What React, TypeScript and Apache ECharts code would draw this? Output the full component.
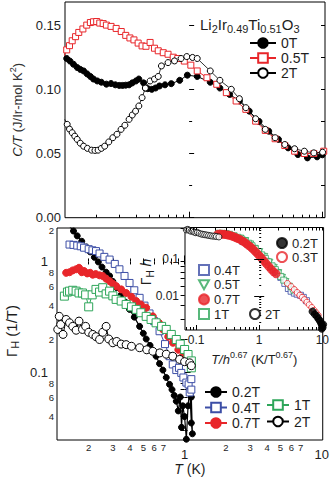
import React, { useEffect, useRef } from "react";
import * as echarts from "echarts";

const FONT = '"Liberation Sans", Arial, Helvetica, sans-serif';
const TXT = "#1e1e1e";
const RED = "#e8262a";
const BLUE = "#3c4ea6";
const GREEN = "#2ea65a";

// ---------- Top panel: C/T (J/Ir-mol K^2) vs T (K) ----------
const top0T: [number, number][] = [
  [0.121, 0.124], [0.128, 0.122], [0.136, 0.1195], [0.145, 0.117], [0.153, 0.1155], [0.162, 0.1143],
  [0.172, 0.112], [0.182, 0.11], [0.192, 0.108], [0.205, 0.1065], [0.22, 0.1055], [0.24, 0.104],
  [0.26, 0.1045], [0.28, 0.1035], [0.3, 0.103], [0.317, 0.103], [0.335, 0.1032], [0.355, 0.1035],
  [0.375, 0.105], [0.4, 0.1065], [0.42, 0.108], [0.456, 0.105], [0.47, 0.101], [0.49, 0.1005],
  [0.525, 0.1], [0.56, 0.101], [0.6, 0.1026], [0.66, 0.1035], [0.735, 0.1044], [0.85, 0.107],
  [0.97, 0.111], [1.15, 0.11], [1.44, 0.1055], [1.7, 0.101], [2.01, 0.096], [2.38, 0.091],
  [2.82, 0.083], [3.34, 0.075], [3.95, 0.0674], [4.67, 0.061], [5.52, 0.0544], [6.53, 0.0492],
  [7.7, 0.0466], [9.1, 0.0474], [9.96, 0.049],
];
const top05T: [number, number][] = [
  [0.115, 0.1255], [0.121, 0.1307], [0.127, 0.134], [0.133, 0.1378], [0.141, 0.141], [0.149, 0.1443],
  [0.16, 0.147], [0.171, 0.15], [0.182, 0.152], [0.192, 0.1526], [0.203, 0.1528], [0.214, 0.1516],
  [0.227, 0.1512], [0.24, 0.15], [0.26, 0.149], [0.284, 0.1474], [0.31, 0.145], [0.335, 0.142],
  [0.36, 0.14], [0.386, 0.1385], [0.415, 0.136], [0.444, 0.1338], [0.475, 0.1335], [0.51, 0.1365],
  [0.55, 0.132], [0.587, 0.13], [0.64, 0.1285], [0.695, 0.1273], [0.76, 0.125], [0.822, 0.124],
  [0.92, 0.122], [1.03, 0.1188], [1.15, 0.1143], [1.36, 0.109], [1.61, 0.1039], [1.9, 0.0974],
  [2.25, 0.0909], [2.66, 0.0844], [3.15, 0.0752], [3.72, 0.068], [4.41, 0.0615], [5.21, 0.0562],
  [6.17, 0.0518], [7.3, 0.05], [8.6, 0.05], [10.2, 0.0518],
];
const top2T: [number, number][] = [
  [0.117, 0.0766], [0.122, 0.0727], [0.127, 0.069], [0.133, 0.0662], [0.139, 0.0635], [0.145, 0.061],
  [0.153, 0.058], [0.162, 0.0557], [0.173, 0.054], [0.186, 0.0526], [0.197, 0.0524], [0.208, 0.0526],
  [0.22, 0.054], [0.233, 0.0557], [0.25, 0.059], [0.268, 0.0623], [0.288, 0.065], [0.309, 0.0688],
  [0.33, 0.072], [0.355, 0.0766], [0.375, 0.08], [0.397, 0.083], [0.42, 0.087], [0.444, 0.0935],
  [0.47, 0.101], [0.51, 0.1065], [0.55, 0.108], [0.587, 0.11], [0.62, 0.1182], [0.695, 0.1208],
  [0.777, 0.1221], [0.87, 0.124], [0.96, 0.1255], [1.06, 0.1248], [1.15, 0.124], [1.44, 0.1143],
  [1.7, 0.107], [2.07, 0.1], [2.38, 0.0927], [2.66, 0.0857], [3.15, 0.0771], [3.72, 0.0688],
  [4.41, 0.0623], [5.21, 0.057], [6.17, 0.0537], [7.3, 0.0518], [8.6, 0.0505], [10, 0.051],
];

// ---------- Bottom panel: Gamma_H (1/T) vs T (K) ----------
const bot02T: [number, number][] = [
  [0.145, 2.08], [0.155, 1.88], [0.165, 1.7], [0.178, 1.52], [0.192, 1.35], [0.205, 1.22],
  [0.22, 1.09], [0.235, 0.99], [0.25, 0.89], [0.268, 0.8], [0.284, 0.74], [0.3, 0.66],
  [0.32, 0.58], [0.345, 0.5], [0.37, 0.43], [0.397, 0.37], [0.43, 0.315], [0.47, 0.26],
  [0.5, 0.225], [0.525, 0.2], [0.56, 0.175], [0.59, 0.155], [0.62, 0.14], [0.657, 0.12],
  [0.695, 0.105], [0.735, 0.09], [0.777, 0.078], [0.81, 0.07], [0.84, 0.062], [0.87, 0.055],
  [0.9, 0.045], [0.93, 0.06], [0.95, 0.032], [0.97, 0.05], [1.0, 0.04], [1.03, 0.025],
  [1.06, 0.05], [1.09, 0.07], [1.12, 0.035], [1.14, 0.028], [1.12, 0.06],
];
const bot04T: [number, number][] = [
  [0.145, 1.42], [0.155, 1.41], [0.165, 1.39], [0.175, 1.37], [0.185, 1.33], [0.2, 1.29],
  [0.213, 1.26], [0.226, 1.24], [0.24, 1.18], [0.26, 1.1], [0.284, 1.04], [0.31, 0.95],
  [0.335, 0.85], [0.365, 0.74], [0.397, 0.64], [0.43, 0.55], [0.47, 0.47], [0.51, 0.4],
  [0.555, 0.34], [0.6, 0.29], [0.657, 0.235], [0.72, 0.18], [0.777, 0.14], [0.82, 0.118],
  [0.87, 0.105], [0.91, 0.11], [0.946, 0.099], [0.98, 0.09], [1.03, 0.081], [1.07, 0.078],
  [1.09, 0.066], [1.12, 0.087], [1.12, 0.07],
];
const bot07T: [number, number][] = [
  [0.137, 0.79], [0.145, 0.8], [0.153, 0.83], [0.162, 0.85], [0.17, 0.877], [0.178, 0.8],
  [0.185, 0.82], [0.195, 0.78], [0.205, 0.79], [0.214, 0.76], [0.225, 0.77], [0.24, 0.75],
  [0.253, 0.74], [0.268, 0.7], [0.284, 0.665], [0.3, 0.63], [0.317, 0.6], [0.345, 0.56],
  [0.375, 0.52], [0.41, 0.48], [0.444, 0.44], [0.48, 0.41], [0.525, 0.383], [0.587, 0.32],
  [0.65, 0.28], [0.695, 0.244], [0.76, 0.21], [0.822, 0.185], [0.9, 0.16], [0.97, 0.14],
  [1.05, 0.125], [1.12, 0.11],
];
const bot1T: [number, number][] = [
  [0.133, 0.487], [0.14, 0.53], [0.145, 0.54], [0.153, 0.55], [0.162, 0.54], [0.17, 0.52],
  [0.18, 0.52], [0.19, 0.5], [0.2, 0.39], [0.212, 0.5], [0.226, 0.56], [0.24, 0.53],
  [0.253, 0.58], [0.268, 0.51], [0.284, 0.54], [0.3, 0.49], [0.317, 0.455], [0.345, 0.44],
  [0.375, 0.41], [0.41, 0.39], [0.444, 0.37], [0.48, 0.345], [0.525, 0.32], [0.57, 0.3],
  [0.62, 0.28], [0.68, 0.26], [0.735, 0.244], [0.8, 0.22], [0.87, 0.198], [0.93, 0.18],
  [1.0, 0.161], [1.06, 0.145], [1.12, 0.127], [1.12, 0.11],
];
const bot2T: [number, number][] = [
  [0.119, 0.244], [0.122, 0.32], [0.125, 0.27], [0.13, 0.22], [0.137, 0.3], [0.145, 0.28],
  [0.153, 0.26], [0.162, 0.24], [0.17, 0.29], [0.18, 0.244], [0.19, 0.26], [0.2, 0.23],
  [0.214, 0.22], [0.226, 0.21], [0.24, 0.198], [0.253, 0.23], [0.268, 0.26], [0.28, 0.2],
  [0.3, 0.185], [0.32, 0.19], [0.345, 0.18], [0.375, 0.178], [0.41, 0.172], [0.47, 0.167],
  [0.53, 0.16], [0.587, 0.155], [0.66, 0.15], [0.735, 0.146], [0.82, 0.14], [0.92, 0.131],
  [1.0, 0.125], [1.09, 0.122], [1.12, 0.115],
];

// ---------- Inset: Gamma_H h vs T/h^0.67 ----------
const ins02T: [number, number][] = [
  [7.0, 0.0038], [7.6, 0.0032], [8.2, 0.0028], [8.7, 0.0024], [9.2, 0.0021], [9.6, 0.0018],
  [9.9, 0.0016], [10.1, 0.0014], [9.8, 0.0013], [10.3, 0.0017],
];
const ins03T: [number, number][] = [
  [2.8, 0.022], [3.2, 0.018], [3.6, 0.015], [4.0, 0.0125], [4.4, 0.0105], [4.8, 0.0092],
  [5.2, 0.008], [5.7, 0.0068], [6.2, 0.0058], [6.8, 0.0049], [7.4, 0.0041], [8.0, 0.0035], [8.6, 0.003],
];
const ins04T: [number, number][] = [
  [0.55, 0.3], [0.65, 0.26], [0.78, 0.2], [0.92, 0.16], [1.1, 0.12], [1.3, 0.088], [1.55, 0.063],
  [1.85, 0.045], [2.2, 0.032], [2.55, 0.022], [2.9, 0.016], [3.2, 0.0135], [3.6, 0.012],
  [4.0, 0.0112], [4.5, 0.0105], [5.0, 0.0092], [5.6, 0.0075],
];
const ins05T: [number, number][] = [
  [0.5, 0.36], [0.6, 0.31], [0.72, 0.25], [0.85, 0.19], [1.0, 0.155], [1.2, 0.115], [1.45, 0.08],
  [1.7, 0.058], [2.0, 0.042], [2.3, 0.031], [2.6, 0.024], [2.95, 0.018], [3.3, 0.014],
];
const ins07T: [number, number][] = [
  [0.22, 0.47], [0.24, 0.48], [0.26, 0.47], [0.28, 0.47], [0.3, 0.46], [0.32, 0.45], [0.34, 0.44],
  [0.37, 0.42], [0.4, 0.4], [0.43, 0.38], [0.46, 0.36], [0.5, 0.34], [0.54, 0.31], [0.58, 0.29],
  [0.63, 0.26], [0.68, 0.235], [0.74, 0.21], [0.8, 0.185], [0.87, 0.16], [0.94, 0.14], [1.02, 0.12],
  [1.1, 0.104], [1.2, 0.088], [1.3, 0.075], [1.42, 0.063], [1.55, 0.053], [1.7, 0.045], [1.85, 0.04],
];
const ins1T: [number, number][] = [
  [0.23, 0.5], [0.26, 0.5], [0.3, 0.49], [0.34, 0.47], [0.4, 0.43], [0.46, 0.39], [0.53, 0.35],
  [0.6, 0.31], [0.68, 0.27], [0.77, 0.23], [0.87, 0.19], [0.98, 0.16], [1.1, 0.13], [1.25, 0.105],
  [1.4, 0.085], [1.6, 0.066], [1.8, 0.052], [2.0, 0.042], [2.2, 0.034], [2.45, 0.027],
];
const ins2T: [number, number][] = [
  [0.066, 0.66], [0.07, 0.62], [0.074, 0.64], [0.078, 0.6], [0.083, 0.57], [0.088, 0.58],
  [0.093, 0.54], [0.099, 0.52], [0.105, 0.53], [0.112, 0.5], [0.12, 0.48], [0.128, 0.47],
  [0.137, 0.46], [0.147, 0.45], [0.158, 0.44], [0.17, 0.43], [0.183, 0.42], [0.197, 0.42],
  [0.21, 0.41], [0.23, 0.4],
];

// ---------- Tick values and labels ----------
const topYMajor = [0, 0.05, 0.1, 0.15];
const topYMinor = [0.025, 0.075, 0.125];
const mainXMajor: [number, string][] = [[1, "1"], [10, "10"]];
const mainXMinor = [0.2, 0.3, 0.4, 0.5, 0.6, 0.7, 0.8, 0.9, 2, 3, 4, 5, 6, 7, 8, 9];
const mainXMinorLabels: [number, string][] = [
  [0.2, "2"], [0.3, "3"], [0.4, "4"], [0.5, "5"], [0.6, "6"], [0.7, "7"],
  [2, "2"], [3, "3"], [4, "4"], [5, "5"], [6, "6"], [7, "7"],
];
const mainYMajor: [number, string][] = [[0.1, "0.1"], [1, "1"]];
const mainYMinor = [0.03, 0.04, 0.05, 0.06, 0.07, 0.08, 0.09, 0.2, 0.3, 0.4, 0.5, 0.6, 0.7, 0.8, 0.9, 2];
const mainYMinorLabels: [number, string][] = [
  [0.04, "4"], [0.06, "6"], [0.08, "8"], [0.2, "2"], [0.4, "4"], [0.6, "6"], [0.8, "8"], [2, "{lo|2}"],
];
const insXMajor: [number, string][] = [[0.1, "0.1"], [1, "1"], [10, "10"]];
const insXMinor = [0.07, 0.08, 0.09, 0.2, 0.3, 0.4, 0.5, 0.6, 0.7, 0.8, 0.9, 2, 3, 4, 5, 6, 7, 8, 9];
const insYMajor: [number, string][] = [[0.01, "0.01"], [0.1, "0.1"]];
const insYMinor = [0.002, 0.003, 0.004, 0.005, 0.006, 0.007, 0.008, 0.009,
  0.02, 0.03, 0.04, 0.05, 0.06, 0.07, 0.08, 0.09, 0.2, 0.3, 0.4, 0.5, 0.6, 0.7];

// ---------- helpers ----------
const lg = (v: number) => Math.log10(v);
const toLogX = (d: [number, number][]) => d.map(([x, y]) => [lg(x), y]);
const toLogXY = (d: [number, number][]) => d.map(([x, y]) => [lg(x), lg(y)]);
const fmtTable = (table: [number, string][]) => (v: number) => {
  const e = table.find(([x]) => Math.abs(lg(x) - v) < 1e-6);
  return e ? e[1] : "";
};

const rich = (size: number) => ({
  i: { fontStyle: "italic", fontSize: size, fontFamily: FONT, color: TXT },
  sup: { fontSize: Math.round(size * 0.7), fontFamily: FONT, color: TXT, padding: [0, 0, 10, 0] },
  sub: { fontSize: Math.round(size * 0.72), fontFamily: FONT, color: TXT, padding: [8, 0, 0, 0] },
});

function tickAxis(o: {
  grid: number; pos: string; min: number; max: number; ticks: number[]; len: number;
  labels?: [number, string][]; size?: number; margin?: number; z?: number; extra?: any;
}) {
  return {
    type: "value",
    gridIndex: o.grid,
    position: o.pos,
    min: o.min,
    max: o.max,
    z: o.z ?? 0,
    axisLine: { show: false },
    splitLine: { show: false },
    axisTick: {
      show: true, inside: true, length: o.len, customValues: o.ticks,
      lineStyle: { color: "#000", width: 1 },
    },
    axisLabel: o.labels
      ? {
          show: true,
          customValues: o.labels.map(([v]) => lg(v)),
          formatter: fmtTable(o.labels),
          fontSize: o.size,
          margin: o.margin,
          color: TXT,
          fontFamily: FONT,
          rich: { lo: { fontSize: o.size, fontFamily: FONT, color: TXT, padding: [5, 0, 0, 0] } },
        }
      : { show: false },
    ...(o.extra || {}),
  };
}

function buildOption() {
  const TX = [-0.93, 1.018];
  const BX = [-0.93, 1.007];
  const BY = [-1.609, 0.3015];
  const IX = [-1.175, 1.02];
  const IY = [-2.92, -0.143];

  const xAxis: any[] = [
    tickAxis({ grid: 0, pos: "bottom", min: TX[0], max: TX[1], ticks: mainXMajor.map(([v]) => lg(v)), len: 6 }),
    tickAxis({ grid: 0, pos: "bottom", min: TX[0], max: TX[1], ticks: mainXMinor.map(lg), len: 3 }),
    tickAxis({
      grid: 1, pos: "bottom", min: BX[0], max: BX[1], ticks: mainXMajor.map(([v]) => lg(v)), len: 6,
      labels: mainXMajor, size: 13, margin: 8,
      extra: {
        name: "{i|T} (K)", nameLocation: "middle", nameGap: 22,
        nameTextStyle: { fontSize: 14, color: TXT, fontFamily: FONT, rich: rich(14) },
      },
    }),
    tickAxis({ grid: 1, pos: "bottom", min: BX[0], max: BX[1], ticks: mainXMinor.map(lg), len: 3, labels: mainXMinorLabels, size: 9.5, margin: 2 }),
    tickAxis({ grid: 1, pos: "top", min: BX[0], max: BX[1], ticks: [...mainXMinor, 1, 10].map(lg), len: 3 }),
    tickAxis({
      grid: 2, pos: "bottom", min: IX[0], max: IX[1], ticks: insXMajor.map(([v]) => lg(v)), len: 5,
      labels: insXMajor, size: 12, margin: 4, z: 12,
      extra: {
        name: "{i|T/h}{sup|0.67} (K/T{sup|0.67})", nameLocation: "middle", nameGap: 20,
        nameTextStyle: { fontSize: 13, color: TXT, fontFamily: FONT, rich: rich(13) },
      },
    }),
    tickAxis({ grid: 2, pos: "bottom", min: IX[0], max: IX[1], ticks: insXMinor.map(lg), len: 3, z: 12 }),
    tickAxis({ grid: 2, pos: "top", min: IX[0], max: IX[1], ticks: [...insXMinor, 0.1, 1, 10].map(lg), len: 3, z: 12 }),
  ];

  const yAxis: any[] = [
    {
      type: "value", gridIndex: 0, position: "left", min: 0, max: 0.168,
      axisLine: { show: false }, splitLine: { show: false },
      axisTick: { show: true, inside: true, length: 5, customValues: topYMajor, lineStyle: { color: "#000" } },
      axisLabel: {
        customValues: topYMajor, formatter: (v: number) => v.toFixed(2),
        fontSize: 13, margin: 4, color: TXT, fontFamily: FONT,
      },
      name: "{i|C/T} (J/Ir-mol K{sup|2})", nameLocation: "middle", nameGap: 38,
      nameTextStyle: { fontSize: 13, color: "#333", fontFamily: FONT, rich: rich(13) },
    },
    {
      type: "value", gridIndex: 0, position: "left", min: 0, max: 0.168,
      axisLine: { show: false }, splitLine: { show: false },
      axisTick: { show: true, inside: true, length: 3, customValues: topYMinor, lineStyle: { color: "#000" } },
      axisLabel: { show: false },
    },
    {
      type: "value", gridIndex: 0, position: "right", min: 0, max: 0.168,
      axisLine: { show: false }, splitLine: { show: false },
      axisTick: { show: true, inside: true, length: 4, customValues: [...topYMajor, ...topYMinor], lineStyle: { color: "#000" } },
      axisLabel: { show: false },
    },
    tickAxis({
      grid: 1, pos: "left", min: BY[0], max: BY[1], ticks: mainYMajor.map(([v]) => lg(v)), len: 6,
      labels: mainYMajor, size: 13, margin: 9,
    }),
    tickAxis({ grid: 1, pos: "left", min: BY[0], max: BY[1], ticks: mainYMinor.map(lg), len: 3, labels: mainYMinorLabels, size: 9.5, margin: 3 }),
    tickAxis({ grid: 1, pos: "right", min: BY[0], max: BY[1], ticks: [...mainYMinor, 0.1, 1].map(lg), len: 4 }),
    tickAxis({
      grid: 2, pos: "left", min: IY[0], max: IY[1], ticks: insYMajor.map(([v]) => lg(v)), len: 5,
      labels: insYMajor, size: 12, margin: 6, z: 12,
    }),
    tickAxis({ grid: 2, pos: "left", min: IY[0], max: IY[1], ticks: insYMinor.map(lg), len: 2, z: 12 }),
    tickAxis({ grid: 2, pos: "right", min: IY[0], max: IY[1], ticks: insYMajor.map(([v]) => lg(v)), len: 5, z: 12 }),
  ];

  const lineS = (name: string, data: any[], xi: number, yi: number, sym: string, size: number, color: string, fill: string, lw = 1) => ({
    type: "line", name, data, xAxisIndex: xi, yAxisIndex: yi, symbol: sym, symbolSize: size,
    showAllSymbol: true,
    itemStyle: { color: fill, borderColor: color, borderWidth: 1 },
    lineStyle: { color, width: lw },
    z: 2,
  });
  const scat = (name: string, data: any[], sym: string, size: number, color: string, fill: string) => ({
    type: "scatter", name, data, xAxisIndex: 5, yAxisIndex: 6, symbol: sym, symbolSize: size,
    itemStyle: { color: fill, borderColor: color, borderWidth: 1 },
    z: 11,
  });

  const series: any[] = [
    lineS("t|0T", toLogX(top0T), 0, 0, "circle", 6, "#000", "#000"),
    lineS("t|0.5T", toLogX(top05T), 0, 0, "rect", 6, RED, "#fff"),
    lineS("t|2T", toLogX(top2T), 0, 0, "circle", 6, "#000", "#fff", 0.8),

    lineS("b|0.2T", toLogXY(bot02T), 2, 3, "circle", 6, "#000", "#000", 1.2),
    lineS("b|0.4T", toLogXY(bot04T), 2, 3, "rect", 7, BLUE, "#fff"),
    lineS("b|0.7T", toLogXY(bot07T), 2, 3, "circle", 7, RED, RED),
    lineS("b|1T", toLogXY(bot1T), 2, 3, "rect", 8, GREEN, "#fff"),
    lineS("b|2T", toLogXY(bot2T), 2, 3, "circle", 8, "#000", "#fff"),

    scat("i|0.4T", toLogXY(ins04T), "rect", 6, BLUE, "#fff"),
    scat("i|0.5T", toLogXY(ins05T), "path://M0,0L10,0L5,9Z", 7, GREEN, "#fff"),
    scat("i|1T", toLogXY(ins1T), "rect", 6, GREEN, "#fff"),
    scat("i|0.7T", toLogXY(ins07T), "circle", 8, RED, RED),
    scat("i|0.3T", toLogXY(ins03T), "circle", 6, RED, "#fff"),
    scat("i|0.2T", toLogXY(ins02T), "circle", 7, "#000", "#000"),
    scat("i|2T", toLogXY(ins2T), "circle", 6, "#000", "#fff"),
  ];

  const strip = (n: string) => n.split("|")[1];
  const legendBase = (data: string[], left: number, top: number, iw: number, ih: number, fs: number, gap: number, z = 4) => ({
    data, left, top, orient: "vertical", itemWidth: iw, itemHeight: ih, itemGap: gap, padding: 0,
    selectedMode: false, formatter: strip, z,
    textStyle: { fontSize: fs, color: TXT, fontFamily: FONT, lineHeight: fs },
  });

  const vName = (text: string, x: number, y: number, size: number) => ({
    type: "text", x, y, rotation: Math.PI / 2, z: 20, originX: 0, originY: 0,
    style: {
      text, fontSize: size, fontFamily: FONT, fill: TXT,
      align: "center", verticalAlign: "middle",
      textAlign: "center", textVerticalAlign: "middle",
      rich: rich(size),
    },
  });

  return {
    animation: false,
    backgroundColor: "#fff",
    title: {
      text: "Li{sub|2}Ir{sub|0.49}Ti{sub|0.51}O{sub|3}",
      left: 200, top: 15, padding: 0,
      textStyle: { fontSize: 15, fontWeight: "normal", color: TXT, fontFamily: FONT, rich: rich(15) },
    },
    grid: [
      { left: 57, top: 2, width: 268, height: 215.7, show: true, borderColor: "#000", borderWidth: 1, backgroundColor: "transparent" },
      { left: 57, top: 228, width: 266.5, height: 212, show: true, borderColor: "#000", borderWidth: 1, backgroundColor: "transparent" },
      { left: 185, top: 227.5, width: 139, height: 102.5, show: true, borderColor: "#000", borderWidth: 1, backgroundColor: "#fff", z: 10 },
    ],
    xAxis,
    yAxis,
    legend: [
      legendBase(["t|0T", "t|0.5T", "t|2T"], 249, 36, 26, 12, 14, 1),
      legendBase(["b|0.2T", "b|0.4T", "b|0.7T"], 204, 385, 22, 12, 14, 1.5),
      legendBase(["b|1T", "b|2T"], 266, 398, 22, 12, 14, 2.5),
      legendBase(["i|0.2T", "i|0.3T"], 276, 236.5, 10, 10, 13, 1, 13),
      legendBase(["i|0.4T", "i|0.5T", "i|0.7T", "i|1T"], 198, 263.5, 10, 10, 13, 1.7, 13),
      legendBase(["i|2T"], 249, 307.5, 10, 10, 13, 1, 13),
    ],
    graphic: [
      vName("Γ{sub|H} (1/T)", 11, 331, 15),
      vName("Γ{sub|H} {i|h}", 146, 272, 14),
    ],
    series,
  };
}

export default function App() {
  const ref = useRef<HTMLDivElement>(null);
  useEffect(() => {
    if (!ref.current) return;
    const chart = echarts.init(ref.current, null, { renderer: "svg" });
    chart.setOption(buildOption() as any);
    return () => chart.dispose();
  }, []);
  return (
    <div
      ref={ref}
      style={{ position: "fixed", left: 0, top: 0, width: 332, height: 481, background: "#fff" }}
    />
  );
}
